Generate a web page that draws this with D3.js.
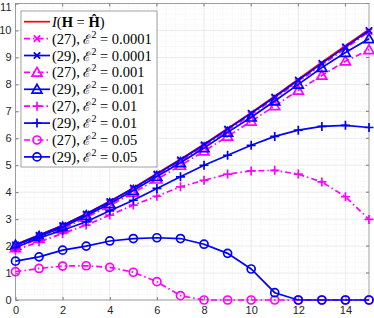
<!DOCTYPE html>
<html>
<head>
<meta charset="utf-8">
<script src="https://cdn.jsdelivr.net/npm/d3@7"></script>
<style>
  body { margin: 0; background: #fff; }
  svg { display: block; }
  .tick text { font-family: "Liberation Sans", Arial, sans-serif; font-size: 11px; fill: #262626; }
</style>
</head>
<body>
<div id="chart"></div>
<script>
// SNR steps on the x axis
const xs = d3.range(0, 16);

const exact    = [2.06, 2.41, 2.77, 3.20, 3.66, 4.16, 4.69, 5.22, 5.78, 6.36, 6.95, 7.56, 8.19, 8.82, 9.43, 10.04];
const e27_0001 = [2.00, 2.35, 2.72, 3.15, 3.60, 4.10, 4.62, 5.15, 5.71, 6.29, 6.88, 7.48, 8.10, 8.72, 9.33, 9.96];
const e29_0001 = [2.05, 2.40, 2.76, 3.19, 3.65, 4.15, 4.67, 5.20, 5.76, 6.34, 6.93, 7.53, 8.16, 8.78, 9.39, 10.00];
const e27_001  = [1.93, 2.28, 2.64, 3.06, 3.50, 3.98, 4.48, 4.99, 5.52, 6.07, 6.63, 7.20, 7.78, 8.33, 8.86, 9.28];
const e29_001  = [2.03, 2.36, 2.70, 3.13, 3.57, 4.06, 4.58, 5.09, 5.64, 6.22, 6.78, 7.38, 8.00, 8.62, 9.18, 9.69];
const e27_01   = [1.85, 2.16, 2.47, 2.78, 3.15, 3.52, 3.85, 4.20, 4.44, 4.67, 4.79, 4.81, 4.67, 4.38, 3.83, 2.99];
const e29_01   = [1.95, 2.30, 2.59, 2.90, 3.31, 3.70, 4.14, 4.57, 5.00, 5.37, 5.74, 6.07, 6.30, 6.44, 6.48, 6.40];
const e27_05   = [1.05, 1.17, 1.26, 1.27, 1.21, 1.03, 0.68, 0.16, 0, 0, 0, 0, 0, 0, 0, 0];
const e29_05   = [1.44, 1.60, 1.85, 2.00, 2.19, 2.28, 2.31, 2.28, 2.07, 1.73, 1.15, 0.27, 0, 0, 0, 0];

const xTicks = [0, 2, 4, 6, 8, 10, 12, 14];
const yTicks = [0, 1, 2, 3, 4, 5, 6, 7, 8, 9, 10, 11];

const magenta = "#ff00ff", blue = "#0000ff", red = "#ff0000";
const dashDot = "6,3,1.5,3";

// series in MATLAB plot order (later ones drawn on top)
const series = [
  { y: exact,    color: red,     dash: null,    marker: null,  label: "exact" },
  { y: e27_0001, color: magenta, dash: dashDot, marker: "x",   eq: "27", val: "0.0001" },
  { y: e29_0001, color: blue,    dash: null,    marker: "x",   eq: "29", val: "0.0001" },
  { y: e27_001,  color: magenta, dash: dashDot, marker: "tri", eq: "27", val: "0.001" },
  { y: e29_001,  color: blue,    dash: null,    marker: "tri", eq: "29", val: "0.001" },
  { y: e27_01,   color: magenta, dash: dashDot, marker: "+",   eq: "27", val: "0.01" },
  { y: e29_01,   color: blue,    dash: null,    marker: "+",   eq: "29", val: "0.01" },
  { y: e27_05,   color: magenta, dash: dashDot, marker: "o",   eq: "27", val: "0.05" },
  { y: e29_05,   color: blue,    dash: null,    marker: "o",   eq: "29", val: "0.05" }
];

const W = 374, H = 318;
const pl = 15.5, pr = 369, pt = 3.5, pb = 300;
const lw = 1.7;

const svg = d3.select("#chart").append("svg")
  .attr("width", W).attr("height", H);

const x = d3.scaleLinear().domain([0, 15]).range([pl, pr]);
const y = d3.scaleLinear().domain([0, 11]).range([pb, pt]);

// minor grid (dotted)
const minorX = d3.range(0, 15.001, 0.4).filter(v => Math.abs(v / 2 - Math.round(v / 2)) > 1e-6);
const minorY = d3.range(0, 11.001, 0.2).filter(v => Math.abs(v - Math.round(v)) > 1e-6);
const grid = svg.append("g");
grid.selectAll(".mx").data(minorX).join("line")
  .attr("x1", d => x(d)).attr("x2", d => x(d)).attr("y1", pt).attr("y2", pb)
  .attr("stroke", "#e4e4e4").attr("stroke-width", 0.6).attr("stroke-dasharray", "1,2");
grid.selectAll(".my").data(minorY).join("line")
  .attr("y1", d => y(d)).attr("y2", d => y(d)).attr("x1", pl).attr("x2", pr)
  .attr("stroke", "#e4e4e4").attr("stroke-width", 0.6).attr("stroke-dasharray", "1,2");
// major grid
grid.selectAll(".gx").data(xTicks).join("line")
  .attr("x1", d => x(d)).attr("x2", d => x(d)).attr("y1", pt).attr("y2", pb)
  .attr("stroke", "#e2e2e2").attr("stroke-width", 0.7);
grid.selectAll(".gy").data(yTicks).join("line")
  .attr("y1", d => y(d)).attr("y2", d => y(d)).attr("x1", pl).attr("x2", pr)
  .attr("stroke", "#e2e2e2").attr("stroke-width", 0.7);

// axes
const xAxis = d3.axisBottom(x).tickValues(xTicks).tickSize(-3).tickPadding(6).tickFormat(d3.format("d"));
const yAxis = d3.axisLeft(y).tickValues(yTicks).tickSize(-3).tickPadding(4).tickFormat(d3.format("d"));
svg.append("g").attr("transform", `translate(0,${pb})`).call(xAxis)
  .call(g => g.select(".domain").remove())
  .call(g => g.selectAll(".tick line").attr("stroke", "#777"));
svg.append("g").attr("transform", `translate(${pl},0)`).call(yAxis)
  .call(g => g.select(".domain").remove())
  .call(g => g.selectAll(".tick line").attr("stroke", "#777"))
  .call(g => g.selectAll(".tick text").filter(d => d === 11).attr("dy", "0.62em"));
// top / right ticks
svg.append("g").selectAll("line").data(xTicks).join("line")
  .attr("x1", d => x(d)).attr("x2", d => x(d)).attr("y1", pt).attr("y2", pt + 3)
  .attr("stroke", "#777");
svg.append("g").selectAll("line").data(yTicks).join("line")
  .attr("y1", d => y(d)).attr("y2", d => y(d)).attr("x1", pr).attr("x2", pr - 3)
  .attr("stroke", "#777");
svg.append("rect")
  .attr("x", pl).attr("y", pt).attr("width", pr - pl).attr("height", pb - pt)
  .attr("fill", "none").attr("stroke", "#8a8a8a").attr("stroke-width", 0.8);

function drawMarker(g, type, cx, cy, color) {
  if (type === "x") {
    const s = 3.2;
    g.append("path").attr("d", `M${cx - s},${cy - s}L${cx + s},${cy + s}M${cx - s},${cy + s}L${cx + s},${cy - s}`)
      .attr("stroke", color).attr("stroke-width", lw).attr("fill", "none");
  } else if (type === "+") {
    const s = 4.5;
    g.append("path").attr("d", `M${cx - s},${cy}L${cx + s},${cy}M${cx},${cy - s}L${cx},${cy + s}`)
      .attr("stroke", color).attr("stroke-width", lw).attr("fill", "none");
  } else if (type === "o") {
    g.append("circle").attr("cx", cx).attr("cy", cy).attr("r", 4)
      .attr("stroke", color).attr("stroke-width", lw).attr("fill", "none");
  } else if (type === "tri") {
    const s = 5;
    g.append("path").attr("d", `M${cx},${cy - s}L${cx + s},${cy + s * 0.75}L${cx - s},${cy + s * 0.75}Z`)
      .attr("stroke", color).attr("stroke-width", lw).attr("fill", "none");
  }
}

const line = d3.line().x((d, i) => x(xs[i])).y(d => y(d));
const plot = svg.append("g");
series.forEach(s => {
  const g = plot.append("g");
  g.append("path").datum(s.y).attr("d", line)
    .attr("fill", "none").attr("stroke", s.color).attr("stroke-width", lw)
    .attr("stroke-dasharray", s.dash);
  if (s.marker) s.y.forEach((v, i) => drawMarker(g, s.marker, x(xs[i]), y(v), s.color));
});

// legend
const lg = svg.append("g");
lg.append("rect").attr("x", 21).attr("y", 11).attr("width", 136).attr("height", 156)
  .attr("fill", "#fff").attr("stroke", "#8a8a8a").attr("stroke-width", 0.8);
const rowY = i => 21.7 + i * 16.9;
series.forEach((s, i) => {
  const cy = rowY(i);
  lg.append("line").attr("x1", 24).attr("x2", 50).attr("y1", cy).attr("y2", cy)
    .attr("stroke", s.color).attr("stroke-width", lw).attr("stroke-dasharray", s.dash);
  if (s.marker) drawMarker(lg, s.marker, 37, cy, s.color);
  const t = lg.append("text").attr("x", 52).attr("y", cy + 5)
    .attr("font-family", "'Liberation Serif', 'DejaVu Serif', serif").attr("font-size", 14.5).attr("fill", "#000");
  if (s.label === "exact") {
    t.append("tspan").attr("font-style", "italic").text("I");
    t.append("tspan").text("(");
    t.append("tspan").attr("font-weight", "bold").text("H");
    t.append("tspan").text(" = ");
    t.append("tspan").attr("font-weight", "bold").text("Ĥ");
    t.append("tspan").text(")");
  } else {
    t.append("tspan").text(`(${s.eq}), `);
    t.append("tspan").attr("font-family", "'DejaVu Serif', serif").attr("font-size", 13).text("ℰ");
    t.append("tspan").attr("font-size", 10).attr("dy", -6).text("2");
    t.append("tspan").attr("dy", 6).text(` = ${s.val}`);
  }
});
</script>
</body>
</html>
